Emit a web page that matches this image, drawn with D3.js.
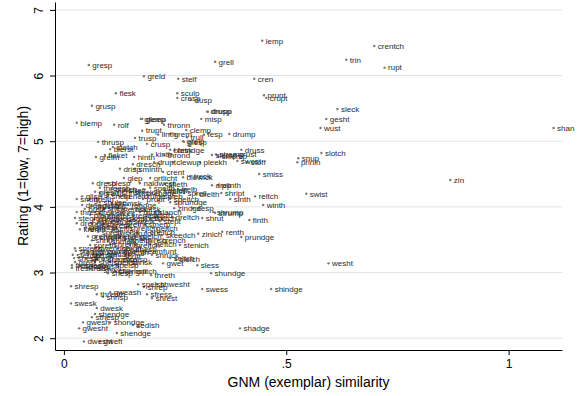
<!DOCTYPE html>
<html>
<head>
<meta charset="utf-8">
<script src="https://cdn.jsdelivr.net/npm/d3@7"></script>
<style>
  html, body { margin: 0; padding: 0; background: #fff; }
  svg { display: block; font-family: "Liberation Sans", Arial, Helvetica, sans-serif; }
</style>
</head>
<body>
<svg id="chart" width="579" height="396"></svg>
<script>
// Nonce words: exemplar-model similarity vs. mean acceptability rating
const words = [
  "lemp","crentch","trin","grell","gresp","rupt","greld","stelf","cren","flesk",
  "sculp","prunt","cresp","crupt","dusp","grusp","sleck","drusp","drupp","misp",
  "glemp","gleep","gesht","blemp","rolf","thronn","wust","shan","clemp","trupt",
  "drump","linth","fesp","grem","trull","trusp","grelp","glesp","thrusp","crusp",
  "stetch","blerst","blesk","brindge","druss","slotch","kinth","fleket","slemp","stremp",
  "sklemp","grust","grelm","hinth","thrond","snup","swost","stoff","drupt","clewup",
  "pleekh","prinin","dresch","drisp","sminth","crent","smiss","glep","ortlicht","blewick",
  "treck","zin","dresp","blesp","naldwest","sfleth","drep","plinth","shript","swist",
  "sinth","reltch","winth",
  "threesp","blurch","streft","snelth","shleft","trelb","gresh","grault","shrull","smelch",
  "prendge","smuth","sprell","glisp","snelp","trench","crulge","spleb","drelth","snuft",
  "grelth","prupt","speltch","shulse","grumsk","sprundge","dreagush","druspish","rondge","zindge",
  "sesp","brelk","shelk","stemsk","blaptsk","thresk","dremsk","shrelt","gruth","slanch",
  "shrump","strump","plenth","sheth","kremisk","blisth","stegmid","shreck","smelsk","sledth",
  "shelsk","shlitch","dreltch","shrut","finth","plusk","stuth","sprelk","stept","drebnik",
  "slesh","gresk","brethk","smerp","grendsk","krenth","krent","skelth","shreltch","geltch",
  "spreft","swelsk","drulch","cheltch","renth","zinich","grendsp","shrenth","stresp","shresk",
  "spelch","skeedch","prundge","shrith","shmelk","smelth","plinsh","crench","spreth","shrenk",
  "threltch","sleftch","stenich","sprelth","swendge","shruft","snesp","stadge","spadge","crundge",
  "swenth","greamfunt","sterdge","sprulsh","shmalt","shriff","shruck","shesk","spresh","shmelsp",
  "shrelsp","seltch","slelch","grest","shelsp","snelisp","shrisk","gwet","sless","wesht",
  "freshesh","fresept","shresh","spelsp","fresk","trelsh","shwesp","shemsp","griltch","shesp",
  "shundge","threth","spelsh","shwesht","shresp","shrep","swess","shindge","gweash","threnth",
  "sfress","shrisp","shrest","swesk","dwesk","shendge","sthesp","gwesh","shondge","sedish",
  "gwesht","shadge","shendge","dwesht","gweft"
];

const similarity = [
  0.446,0.698,0.635,0.340,0.056,0.721,0.180,0.257,0.428,0.117,
  0.255,0.450,0.255,0.455,0.286,0.063,0.615,0.322,0.324,0.309,
  0.173,0.176,0.590,0.029,0.113,0.225,0.577,1.101,0.275,0.176,
  0.372,0.212,0.315,0.239,0.277,0.160,0.268,0.270,0.077,0.187,
  0.110,0.104,0.239,0.248,0.399,0.579,0.198,0.092,0.333,0.342,
  0.347,0.385,0.072,0.158,0.225,0.527,0.390,0.412,0.203,0.245,
  0.306,0.525,0.155,0.126,0.160,0.223,0.439,0.135,0.194,0.268,
  0.284,0.869,0.065,0.099,0.171,0.227,0.333,0.347,0.354,0.545,
  0.374,0.430,0.448,
  0.081,0.108,0.137,0.194,0.227,0.257,0.070,0.081,0.122,0.151,
  0.178,0.216,0.270,0.041,0.099,0.126,0.171,0.216,0.297,0.029,
  0.059,0.178,0.239,0.081,0.108,0.239,0.041,0.063,0.144,0.248,
  0.291,0.047,0.090,0.122,0.153,0.029,0.070,0.108,0.171,0.205,
  0.336,0.340,0.059,0.090,0.144,0.194,0.025,0.068,0.099,0.131,
  0.167,0.194,0.243,0.311,0.417,0.077,0.108,0.149,0.216,0.029,
  0.063,0.099,0.131,0.182,0.050,0.036,0.047,0.099,0.140,0.200,
  0.077,0.108,0.149,0.185,0.356,0.302,0.054,0.072,0.104,0.126,
  0.160,0.221,0.399,0.063,0.099,0.137,0.176,0.212,0.059,0.104,
  0.149,0.194,0.261,0.025,0.070,0.122,0.153,0.027,0.054,0.090,
  0.126,0.164,0.020,0.054,0.088,0.126,0.198,0.023,0.050,0.090,
  0.122,0.239,0.252,0.025,0.070,0.104,0.144,0.223,0.300,0.595,
  0.018,0.036,0.063,0.108,0.018,0.054,0.081,0.115,0.153,0.099,
  0.331,0.196,0.167,0.209,0.016,0.180,0.311,0.466,0.104,0.074,
  0.187,0.088,0.198,0.016,0.074,0.070,0.063,0.043,0.104,0.155,
  0.034,0.396,0.119,0.045,0.081
];

const rating = [
  6.53,6.45,6.24,6.21,6.16,6.12,5.99,5.95,5.95,5.73,
  5.73,5.70,5.66,5.66,5.63,5.54,5.49,5.45,5.45,5.34,
  5.34,5.34,5.34,5.28,5.25,5.25,5.20,5.20,5.17,5.16,
  5.11,5.10,5.10,5.11,5.06,5.05,5.00,4.99,4.99,4.96,
  4.91,4.88,4.87,4.86,4.87,4.82,4.80,4.79,4.79,4.80,
  4.77,4.80,4.76,4.76,4.79,4.74,4.70,4.68,4.68,4.68,
  4.68,4.68,4.65,4.58,4.58,4.53,4.50,4.44,4.44,4.45,
  4.47,4.41,4.36,4.36,4.36,4.35,4.33,4.33,4.21,4.20,
  4.12,4.16,4.03,
  4.29,4.27,4.26,4.29,4.26,4.27,4.23,4.21,4.23,4.23,
  4.21,4.24,4.21,4.16,4.16,4.16,4.16,4.16,4.20,4.12,
  4.12,4.12,4.12,4.07,4.06,4.07,4.03,4.01,4.03,3.98,
  3.98,3.97,3.98,3.97,3.97,3.92,3.92,3.91,3.92,3.92,
  3.92,3.91,3.88,3.86,3.88,3.88,3.83,3.81,3.83,3.81,
  3.83,3.83,3.84,3.83,3.80,3.78,3.77,3.78,3.78,3.75,
  3.74,3.72,3.74,3.74,3.69,3.66,3.68,3.68,3.68,3.68,
  3.62,3.62,3.60,3.62,3.62,3.59,3.55,3.54,3.55,3.54,
  3.55,3.57,3.54,3.49,3.48,3.49,3.49,3.49,3.42,3.43,
  3.42,3.43,3.42,3.37,3.37,3.37,3.36,3.33,3.31,3.33,
  3.31,3.33,3.27,3.27,3.28,3.25,3.27,3.22,3.22,3.20,
  3.20,3.22,3.20,3.16,3.16,3.16,3.16,3.14,3.11,3.14,
  3.11,3.10,3.10,3.11,3.07,3.07,3.04,3.02,3.02,2.99,
  2.99,2.96,2.82,2.82,2.79,2.78,2.75,2.75,2.70,2.67,
  2.67,2.63,2.61,2.53,2.46,2.37,2.32,2.24,2.24,2.20,
  2.15,2.15,2.08,1.95,1.95
];

const xTicks = [0, 0.5, 1];
const xTickLabels = ["0", ".5", "1"];
const yTicks = [2, 3, 4, 5, 6, 7];
const xTitle = "GNM (exemplar) similarity";
const yTitle = "Rating (1=low, 7=high)";

const svg = d3.select("#chart");
const plot = { left: 55, right: 562, top: 2, bottom: 350 };

const x = d3.scaleLinear().domain([-0.02, 1.12]).range([plot.left, plot.right]);
const y = d3.scaleLinear().domain([1.82, 7.12]).range([plot.bottom, plot.top]);

const points = words.map((w, i) => ({ word: w, sim: similarity[i], rating: rating[i] }));

// horizontal grid lines at the y ticks
svg.append("g")
  .selectAll("line")
  .data(yTicks)
  .join("line")
  .attr("x1", plot.left).attr("x2", plot.right)
  .attr("y1", d => y(d)).attr("y2", d => y(d))
  .attr("stroke", "#e4e4e4")
  .attr("stroke-width", 1);

// y axis with vertical tick labels
const yAxis = svg.append("g")
  .attr("transform", `translate(${plot.left},0)`)
  .call(d3.axisLeft(y).tickValues(yTicks).tickFormat(d3.format("d")).tickSize(5).tickSizeOuter(0));
yAxis.select(".domain").attr("stroke", "#000");
yAxis.selectAll(".tick line").attr("stroke", "#000");
yAxis.selectAll(".tick text")
  .attr("font-size", 12)
  .attr("font-family", "Liberation Sans, Arial, sans-serif")
  .attr("fill", "#000")
  .attr("text-anchor", "middle")
  .attr("x", 0).attr("dy", 0)
  .attr("transform", "translate(-12,0) rotate(-90)");

// x axis
const xAxis = svg.append("g")
  .attr("transform", `translate(0,${plot.bottom})`)
  .call(d3.axisBottom(x).tickValues(xTicks).tickFormat((d, i) => xTickLabels[i]).tickSize(5).tickSizeOuter(0));
xAxis.select(".domain").attr("stroke", "#000");
xAxis.selectAll(".tick line").attr("stroke", "#000");
xAxis.selectAll(".tick text")
  .attr("font-size", 12)
  .attr("font-family", "Liberation Sans, Arial, sans-serif")
  .attr("fill", "#000")
  .attr("y", 9);

// axis titles
svg.append("text")
  .attr("x", (plot.left + plot.right) / 2)
  .attr("y", 387)
  .attr("text-anchor", "middle")
  .attr("font-size", 14)
  .attr("fill", "#000")
  .text(xTitle);

svg.append("text")
  .attr("transform", `translate(28,${(plot.top + plot.bottom) / 2}) rotate(-90)`)
  .attr("text-anchor", "middle")
  .attr("font-size", 14)
  .attr("fill", "#000")
  .text(yTitle);

// markers and their word labels
const pts = svg.append("g");
pts.selectAll("circle")
  .data(points)
  .join("circle")
  .attr("cx", d => x(d.sim))
  .attr("cy", d => y(d.rating))
  .attr("r", 1.2)
  .attr("fill", "#7a7a7a");

pts.selectAll("text")
  .data(points)
  .join("text")
  .attr("x", d => x(d.sim) + 3.5)
  .attr("y", d => y(d.rating))
  .attr("dy", "0.35em")
  .attr("font-size", 8)
  .attr("fill", "#2a2a2a")
  .text(d => d.word);
</script>
</body>
</html>
